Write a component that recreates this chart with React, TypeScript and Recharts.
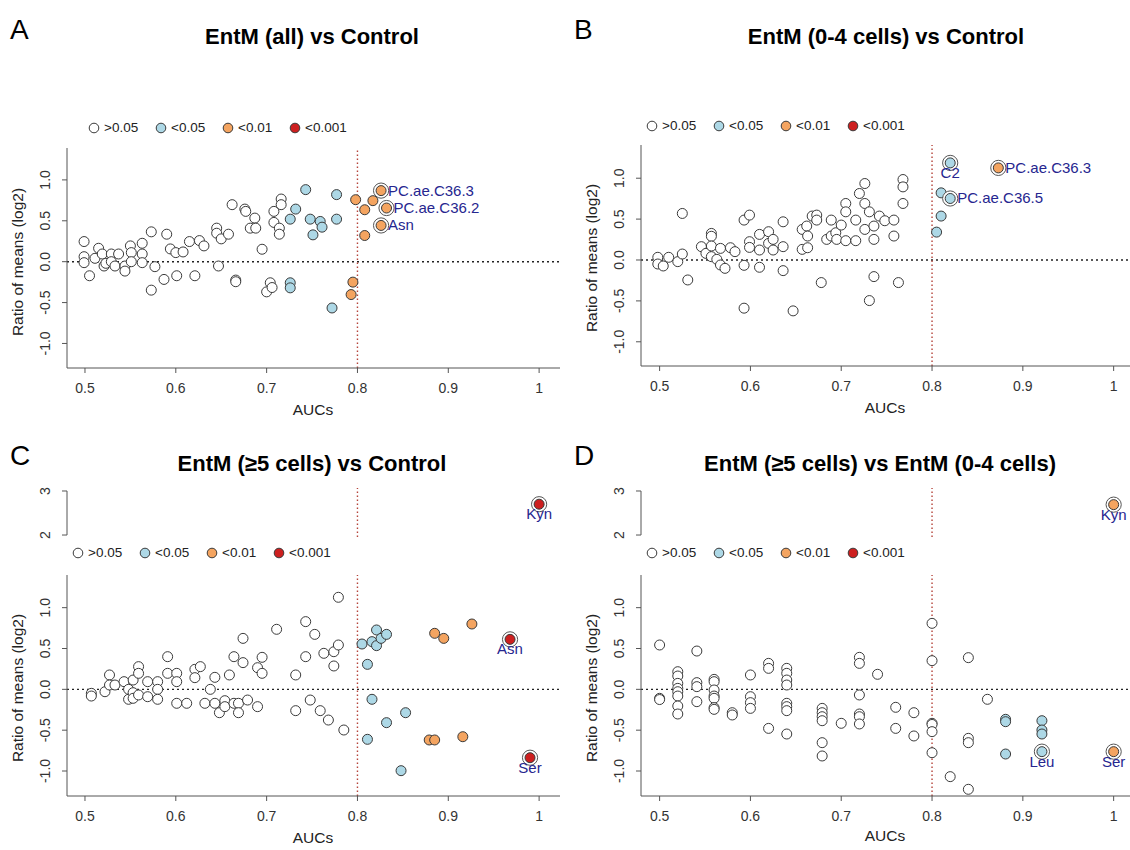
import React from "react";
import { ScatterChart, Scatter, XAxis, YAxis, ReferenceLine } from "recharts";

type Pt = [number, number];
type Level = "ns" | "p05" | "p01" | "p001";
type Hl = { name: string; auc: number; ratio: number; level: Level };

// ---- Panel A: EntM (all) vs Control ----
const A_NS: Pt[] = [
  [0.499, 0.246], [0.499, 0.061], [0.499, -0.012], [0.505, -0.172], [0.511, 0.041], [0.515, 0.164],
  [0.519, 0.094], [0.521, -0.053], [0.523, -0.02], [0.529, 0.094], [0.529, 0.0], [0.533, -0.053],
  [0.537, 0.094], [0.544, -0.053], [0.544, -0.115], [0.55, 0.193], [0.551, 0.111], [0.551, 0.0],
  [0.563, 0.225], [0.563, 0.094], [0.563, -0.012], [0.573, 0.365], [0.573, -0.348], [0.577, -0.061],
  [0.587, -0.217], [0.59, 0.336], [0.594, 0.156], [0.6, 0.111], [0.601, -0.172], [0.608, 0.119],
  [0.615, 0.246], [0.621, -0.172], [0.626, 0.258], [0.631, 0.193], [0.645, 0.41], [0.645, 0.348],
  [0.647, -0.053], [0.65, 0.279], [0.658, 0.336], [0.662, 0.697], [0.666, -0.225], [0.666, -0.245],
  [0.676, 0.643], [0.677, 0.615], [0.682, 0.41], [0.687, 0.533], [0.688, 0.41], [0.695, 0.152],
  [0.7, -0.369], [0.704, -0.258], [0.706, -0.316], [0.708, 0.615], [0.708, 0.48], [0.714, 0.41],
  [0.714, 0.336], [0.716, 0.766], [0.716, 0.697],
];
const A_P05: Pt[] = [
  [0.743, 0.881], [0.732, 0.643], [0.726, 0.52], [0.748, 0.52], [0.759, 0.492], [0.761, 0.422],
  [0.751, 0.328], [0.777, 0.82], [0.777, 0.52], [0.726, -0.258], [0.726, -0.32], [0.772, -0.566],
];
const A_P01: Pt[] = [
  [0.798, 0.758], [0.808, 0.635], [0.817, 0.746], [0.808, 0.32], [0.795, -0.25], [0.793, -0.402],
];
const A_HL: Hl[] = [
  { name: "PC.ae.C36.3", auc: 0.826, ratio: 0.869, level: "p01" },
  { name: "PC.ae.C36.2", auc: 0.832, ratio: 0.656, level: "p01" },
  { name: "Asn", auc: 0.826, ratio: 0.443, level: "p01" },
];

// ---- Panel B: EntM (0-4 cells) vs Control ----
const B_NS: Pt[] = [
  [0.498, 0.033], [0.498, -0.049], [0.504, -0.073], [0.51, 0.033], [0.52, -0.02], [0.525, 0.569],
  [0.525, 0.073], [0.531, -0.244], [0.546, 0.163], [0.551, 0.081], [0.557, 0.325], [0.557, 0.29],
  [0.557, 0.171], [0.557, 0.041], [0.563, 0.008], [0.567, 0.142], [0.567, -0.061], [0.572, -0.102],
  [0.578, 0.15], [0.583, 0.102], [0.593, 0.488], [0.593, -0.065], [0.593, -0.589], [0.599, 0.549],
  [0.599, 0.224], [0.599, 0.154], [0.61, 0.313], [0.61, 0.122], [0.61, -0.089], [0.62, 0.346],
  [0.62, 0.203], [0.625, 0.252], [0.625, 0.122], [0.636, 0.467], [0.636, 0.163], [0.636, -0.13],
  [0.647, -0.622], [0.657, 0.374], [0.657, 0.13], [0.662, 0.415], [0.663, 0.293], [0.663, 0.15],
  [0.668, 0.537], [0.673, 0.549], [0.673, 0.488], [0.678, -0.276], [0.684, 0.252], [0.689, 0.488],
  [0.689, 0.293], [0.694, 0.333], [0.695, 0.252], [0.7, 0.427], [0.705, 0.691], [0.705, 0.589],
  [0.705, 0.236], [0.716, 0.488], [0.716, 0.236], [0.72, 0.813], [0.726, 0.935], [0.726, 0.691],
  [0.726, 0.374], [0.731, 0.589], [0.731, -0.496], [0.736, 0.415], [0.736, 0.252], [0.736, -0.203],
  [0.742, 0.537], [0.748, 0.48], [0.758, 0.488], [0.758, 0.293], [0.763, -0.276], [0.768, 0.984],
  [0.768, 0.894], [0.768, 0.691],
];
const B_P05: Pt[] = [[0.805, 0.341], [0.81, 0.537], [0.81, 0.821]];
const B_HL: Hl[] = [
  { name: "C2", auc: 0.82, ratio: 1.187, level: "p05" },
  { name: "PC.ae.C36.5", auc: 0.82, ratio: 0.752, level: "p05" },
  { name: "PC.ae.C36.3", auc: 0.873, ratio: 1.126, level: "p01" },
];

// ---- Panel C: EntM (>=5 cells) vs Control ----
const C_NS: Pt[] = [
  [0.507, -0.049], [0.507, -0.082], [0.522, -0.029], [0.527, 0.176], [0.527, 0.053], [0.533, 0.053],
  [0.543, 0.094], [0.548, 0], [0.548, -0.122], [0.553, 0.114], [0.553, -0.041], [0.553, -0.11],
  [0.559, 0.278], [0.559, 0.196], [0.559, -0.069], [0.569, 0.094], [0.569, -0.09], [0.58, 0.094],
  [0.58, 0], [0.58, -0.122], [0.591, 0.4], [0.591, 0.196], [0.601, 0.196], [0.601, 0.094],
  [0.601, -0.171], [0.612, -0.171], [0.621, 0.245], [0.621, 0.143], [0.627, 0.278], [0.632, -0.171],
  [0.638, 0], [0.643, 0.147], [0.643, -0.171], [0.648, -0.286], [0.654, -0.139], [0.654, -0.212],
  [0.659, 0.176], [0.664, 0.4], [0.664, -0.171], [0.669, -0.171], [0.669, -0.286], [0.674, 0.624],
  [0.674, 0.327], [0.679, -0.131], [0.69, 0.265], [0.69, -0.212], [0.695, 0.392], [0.695, 0.196],
  [0.711, 0.735], [0.732, 0.176], [0.732, -0.261], [0.743, 0.829], [0.743, 0.4], [0.748, -0.131],
  [0.753, 0.673], [0.759, -0.261], [0.763, 0.441], [0.768, -0.376], [0.774, 0.461], [0.774, 0.286],
  [0.779, 0.543], [0.779, 1.127], [0.785, -0.498],
];
const C_P05: Pt[] = [
  [0.805, 0.555], [0.811, 0.306], [0.811, -0.612], [0.816, -0.122], [0.816, 0.584], [0.821, 0.727],
  [0.821, 0.535], [0.826, 0.624], [0.832, 0.673], [0.832, -0.408], [0.848, -0.996], [0.853, -0.286],
];
const C_P01: Pt[] = [
  [0.885, 0.686], [0.895, 0.624], [0.926, 0.8], [0.879, -0.62], [0.885, -0.62], [0.916, -0.58],
];
const C_HL: Hl[] = [
  { name: "Asn", auc: 0.968, ratio: 0.612, level: "p001" },
  { name: "Ser", auc: 0.99, ratio: -0.837, level: "p001" },
];
const C_UPPER: Hl[] = [{ name: "Kyn", auc: 1.0, ratio: 2.7, level: "p001" }];

// ---- Panel D: EntM (>=5 cells) vs EntM (0-4 cells) ----
const D_NS: Pt[] = [
  [0.5, 0.543], [0.5, -0.11], [0.5, -0.125], [0.52, 0.216], [0.52, 0.163], [0.52, 0.073],
  [0.52, 0.012], [0.52, -0.029], [0.52, -0.082], [0.52, -0.204], [0.52, -0.302], [0.541, 0.469],
  [0.541, 0.082], [0.541, 0.033], [0.541, -0.151], [0.56, 0.122], [0.56, 0.094], [0.56, -0.008],
  [0.56, -0.082], [0.56, -0.11], [0.56, -0.224], [0.56, -0.245], [0.58, -0.286], [0.58, -0.314],
  [0.6, 0.176], [0.6, -0.09], [0.6, -0.163], [0.6, -0.233], [0.62, 0.318], [0.62, 0.257],
  [0.62, -0.478], [0.64, 0.257], [0.64, 0.196], [0.64, 0.114], [0.64, 0.053], [0.64, -0.171],
  [0.64, -0.212], [0.64, -0.261], [0.64, -0.547], [0.679, -0.233], [0.679, -0.286], [0.679, -0.335],
  [0.679, -0.384], [0.679, -0.653], [0.679, -0.816], [0.7, -0.416], [0.72, 0.392], [0.72, 0.318],
  [0.72, -0.069], [0.72, -0.302], [0.72, -0.335], [0.72, -0.424], [0.74, 0.184], [0.76, -0.22],
  [0.76, -0.478], [0.78, -0.286], [0.78, -0.571], [0.8, 0.808], [0.8, 0.351], [0.8, -0.416],
  [0.8, -0.43], [0.8, -0.518], [0.8, -0.776], [0.82, -1.069], [0.84, 0.388], [0.84, -0.6],
  [0.84, -0.653], [0.84, -1.224], [0.861, -0.122],
];
const D_P05: Pt[] = [
  [0.881, -0.367], [0.881, -0.396], [0.881, -0.792], [0.921, -0.384], [0.921, -0.498], [0.921, -0.547],
];
const D_HL: Hl[] = [
  { name: "Leu", auc: 0.921, ratio: -0.763, level: "p05" },
  { name: "Ser", auc: 1.0, ratio: -0.763, level: "p01" },
];
const D_UPPER: Hl[] = [{ name: "Kyn", auc: 1.0, ratio: 2.69, level: "p01" }];

const X_TICKS = [0.5, 0.6, 0.7, 0.8, 0.9, 1];
const Y_TICKS = [-1, -0.5, 0, 0.5, 1];
const UPPER_TICKS = [2, 2.5, 3];
const LEGEND_ITEMS: { level: Level; label: string }[] = [
  { level: "ns", label: ">0.05" },
  { level: "p05", label: "<0.05" },
  { level: "p01", label: "<0.01" },
  { level: "p001", label: "<0.001" },
];

const FILL: Record<Level, string> = {
  ns: "#ffffff",
  p05: "#add8e6",
  p01: "#f4a460",
  p001: "#cd1f1f",
};
const FONT = "'Liberation Sans', Arial, sans-serif";
const LABEL_COLOR = "#26268f";
const R = 5;

const toPts = (arr: Pt[]) => arr.map(([auc, ratio]) => ({ auc, ratio }));

const dotShape = (level: Level) => (props: any) => (
  <circle cx={props.cx} cy={props.cy} r={R} fill={FILL[level]} stroke="#3a3a3a" strokeWidth={1} />
);

const hlShape = (below: string[]) => (props: any) => {
  const { cx, cy, payload } = props;
  const isBelow = below.includes(payload.name);
  return (
    <g>
      <circle cx={cx} cy={cy} r={7.6} fill="#fff" stroke="#555" strokeWidth={1} />
      <circle cx={cx} cy={cy} r={R} fill={FILL[payload.level as Level]} stroke="#3a3a3a" strokeWidth={1} />
      <text
        x={isBelow ? cx : cx + 7}
        y={isBelow ? cy + 15 : cy + 5}
        textAnchor={isBelow ? "middle" : "start"}
        fontSize={15}
        fontFamily={FONT}
        fill={LABEL_COLOR}
      >
        {payload.name}
      </text>
    </g>
  );
};

const RotTick = (props: any) => {
  const { x, y, payload, upper } = props;
  const v = payload.value as number;
  const txt = upper ? String(v) : v.toFixed(1);
  return (
    <text x={x} y={y} transform={`rotate(-90 ${x} ${y})`} textAnchor="middle" fontSize={14} fill="#333" fontFamily={FONT}>
      {txt}
    </text>
  );
};

type Geo = { x0: number; x1: number; y0: number; y1: number; xDom: [number, number]; yDom: [number, number] };

type Panel = {
  letter: string;
  title: string;
  letterPos: [number, number];
  titlePos: [number, number];
  legendPos: [number, number];
  xLabelPos: [number, number];
  yLabelPos: [number, number];
  geo: Geo;
  ns: Pt[];
  p05: Pt[];
  p01: Pt[];
  hl: Hl[];
  below: string[];
  upper?: Hl[];
};

const PANELS: Panel[] = [
  {
    letter: "A", title: "EntM (all) vs Control",
    letterPos: [10, 16], titlePos: [312, 37], legendPos: [94, 128], xLabelPos: [313, 410], yLabelPos: [18, 262],
    geo: { x0: 67, x1: 560, y0: 148, y1: 368, xDom: [0.4802, 1.023], yDom: [-1.3, 1.39] },
    ns: A_NS, p05: A_P05, p01: A_P01, hl: A_HL, below: [],
  },
  {
    letter: "B", title: "EntM (0-4 cells) vs Control",
    letterPos: [574, 16], titlePos: [886, 37], legendPos: [652, 126], xLabelPos: [885, 408], yLabelPos: [592, 258],
    geo: { x0: 641, x1: 1130, y0: 145, y1: 366, xDom: [0.4795, 1.018], yDom: [-1.296, 1.406] },
    ns: B_NS, p05: B_P05, p01: [], hl: B_HL, below: ["C2"],
  },
  {
    letter: "C", title: "EntM (≥5 cells) vs Control",
    letterPos: [10, 442], titlePos: [312, 464], legendPos: [78, 553], xLabelPos: [313, 838], yLabelPos: [18, 688],
    geo: { x0: 67, x1: 560, y0: 575, y1: 796, xDom: [0.4802, 1.023], yDom: [-1.306, 1.4] },
    ns: C_NS, p05: C_P05, p01: C_P01, hl: C_HL, below: ["Asn", "Ser", "Kyn"], upper: C_UPPER,
  },
  {
    letter: "D", title: "EntM (≥5 cells) vs EntM (0-4 cells)",
    letterPos: [574, 442], titlePos: [880, 464], legendPos: [652, 553], xLabelPos: [885, 836], yLabelPos: [592, 688],
    geo: { x0: 641, x1: 1130, y0: 575, y1: 796, xDom: [0.4795, 1.018], yDom: [-1.306, 1.4] },
    ns: D_NS, p05: D_P05, p01: [], hl: D_HL, below: ["Leu", "Ser", "Kyn"], upper: D_UPPER,
  },
];

const abs = (left: number, top: number, extra: React.CSSProperties = {}): React.CSSProperties => ({
  position: "absolute", left, top, fontFamily: FONT, lineHeight: 1, whiteSpace: "nowrap", ...extra,
});

function Legend({ x, y }: { x: number; y: number }) {
  return (
    <>
      {LEGEND_ITEMS.map((it, i) => (
        <div key={it.level} style={abs(x + i * 67 - 6, y - 7, { display: "flex", alignItems: "center", fontSize: 13.5, color: "#222" })}>
          <svg width={12} height={14} style={{ marginRight: 4 }}>
            <circle cx={6} cy={7} r={4.8} fill={FILL[it.level]} stroke="#3a3a3a" strokeWidth={1} />
          </svg>
          <span>{it.label}</span>
        </div>
      ))}
    </>
  );
}

function PanelView({ p }: { p: Panel }) {
  const g = p.geo;
  const yAxisW = 67;
  const left = g.x0 - yAxisW;
  const width = g.x1 - left + (g.x1 < 1130 ? 5 : 0);
  const top = g.y0 - 8;
  const height = Math.min(g.y1 + 54, 850) - top;
  const xAxisH = 40;
  const upTop = 480;
  return (
    <>
      <div style={abs(p.letterPos[0], p.letterPos[1], { fontSize: 28 })}>{p.letter}</div>
      <div style={abs(p.titlePos[0], p.titlePos[1], { fontSize: 22, fontWeight: "bold", transform: "translate(-50%, -50%)" })}>
        {p.title}
      </div>
      <Legend x={p.legendPos[0]} y={p.legendPos[1]} />
      <div style={abs(p.xLabelPos[0], p.xLabelPos[1], { fontSize: 15.5, color: "#222", transform: "translate(-50%, -50%)" })}>AUCs</div>
      <div style={abs(p.yLabelPos[0], p.yLabelPos[1], { fontSize: 15.5, color: "#222", transform: "translate(-50%, -50%) rotate(-90deg)" })}>
        Ratio of means (log2)
      </div>

      {p.upper && (
        <div style={{ position: "absolute", left, top: upTop }}>
          <ScatterChart width={width} height={65} margin={{ top: 8, right: g.x1 < 1130 ? 5 : 0, bottom: 8, left: 0 }}>
            <XAxis type="number" dataKey="auc" domain={g.xDom} allowDataOverflow hide />
            <YAxis
              type="number" dataKey="ratio" domain={[1.955, 3.068]} ticks={UPPER_TICKS} width={yAxisW}
              allowDataOverflow axisLine={false} tickSize={5} tickMargin={12}
              tickLine={{ stroke: "#555" }} tick={(tp: any) => <RotTick {...tp} upper />}
            />
            <ReferenceLine segment={[{ x: g.xDom[0], y: 2 }, { x: g.xDom[0], y: 3 }]} stroke="#555" ifOverflow="visible" />
            <ReferenceLine x={0.8} stroke="#b5443a" strokeDasharray="1.5 2.5" strokeWidth={1.4} />
            <Scatter data={p.upper} shape={hlShape(p.below)} isAnimationActive={false} />
          </ScatterChart>
        </div>
      )}

      <div style={{ position: "absolute", left, top }}>
        <ScatterChart
          width={width} height={height}
          margin={{ top: 8, right: g.x1 < 1130 ? 5 : 0, bottom: height - 8 - (g.y1 - g.y0) - xAxisH, left: 0 }}
        >
          <XAxis
            type="number" dataKey="auc" domain={g.xDom} ticks={X_TICKS} allowDataOverflow height={xAxisH}
            tickFormatter={(v: number) => (v === 1 ? "1" : v.toFixed(1))}
            tick={{ fontSize: 14, fill: "#333", fontFamily: FONT }}
            tickSize={5} tickMargin={10} axisLine={{ stroke: "#555" }} tickLine={{ stroke: "#555" }}
          />
          <YAxis
            type="number" dataKey="ratio" domain={g.yDom} ticks={Y_TICKS} allowDataOverflow width={yAxisW}
            tickSize={5} tickMargin={12} axisLine={{ stroke: "#555" }} tickLine={{ stroke: "#555" }}
            tick={(tp: any) => <RotTick {...tp} />}
          />
          <ReferenceLine y={0} stroke="#222" strokeDasharray="2 3" strokeWidth={1.4} />
          <ReferenceLine x={0.8} stroke="#b5443a" strokeDasharray="1.5 2.5" strokeWidth={1.4} />
          <Scatter data={toPts(p.ns)} shape={dotShape("ns")} isAnimationActive={false} />
          <Scatter data={toPts(p.p05)} shape={dotShape("p05")} isAnimationActive={false} />
          <Scatter data={toPts(p.p01)} shape={dotShape("p01")} isAnimationActive={false} />
          <Scatter data={p.hl} shape={hlShape(p.below)} isAnimationActive={false} />
        </ScatterChart>
      </div>
    </>
  );
}

export default function App() {
  return (
    <div style={{ position: "absolute", left: 0, top: 0, width: 1130, height: 850, overflow: "hidden", background: "#fff" }}>
      {PANELS.map((p) => (
        <PanelView key={p.letter} p={p} />
      ))}
    </div>
  );
}
